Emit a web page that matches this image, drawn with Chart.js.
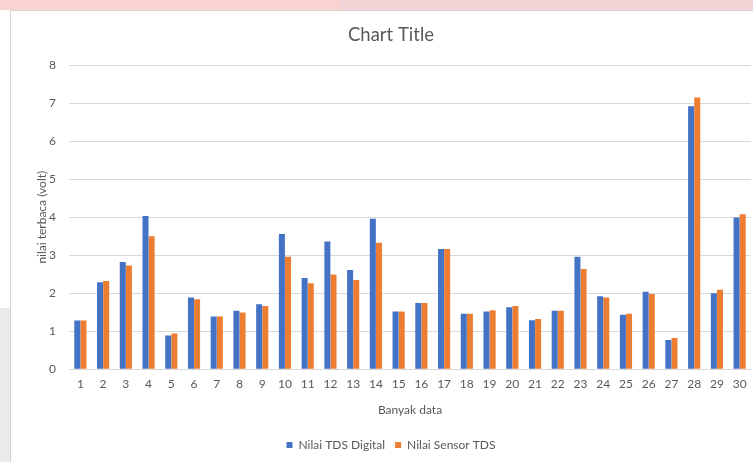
<!DOCTYPE html>
<html>
<head>
<meta charset="utf-8">
<script src="https://cdn.jsdelivr.net/npm/chart.js@4/dist/chart.umd.min.js"></script>
<style>
  html, body { margin: 0; padding: 0; width: 753px; height: 462px; overflow: hidden; background: #ffffff; }
  #pinkL { position: absolute; left: 0; top: 0; width: 340px; height: 10px; background: #fbd2d2; }
  #pinkR { position: absolute; left: 340px; top: 0; width: 413px; height: 10px; background: #f2d3d6; }
  #grayL { position: absolute; left: 0; top: 308px; width: 10px; height: 154px; background: #ebebeb; }
  #frame { position: absolute; left: 10px; top: 10px; width: 760px; height: 460px; border-left: 1px solid #d4d4d4; border-top: 1px solid #d4d4d4; background: #ffffff; overflow: hidden; }
  #wrap { position: absolute; left: 0; top: 0; width: 758px; height: 451px; }
</style>
</head>
<body>
<div id="pinkL"></div><div id="pinkR"></div><div id="grayL"></div>
<div id="frame"><div id="wrap"><canvas id="c"></canvas></div></div>
<script>
const categories = ["1","2","3","4","5","6","7","8","9","10","11","12","13","14","15","16","17","18","19","20","21","22","23","24","25","26","27","28","29","30"];
const seriesNames = ["Nilai TDS Digital", "Nilai Sensor TDS"];
const tdsDigital = [1.28, 2.29, 2.82, 4.03, 0.89, 1.89, 1.39, 1.54, 1.71, 3.56, 2.40, 3.36, 2.61, 3.96, 1.52, 1.74, 3.16, 1.46, 1.52, 1.63, 1.29, 1.54, 2.96, 1.92, 1.43, 2.04, 0.77, 6.92, 2.00, 3.99];
const sensorTds = [1.28, 2.32, 2.73, 3.50, 0.94, 1.84, 1.39, 1.49, 1.66, 2.96, 2.26, 2.49, 2.35, 3.33, 1.52, 1.74, 3.16, 1.46, 1.55, 1.66, 1.32, 1.54, 2.64, 1.89, 1.46, 1.98, 0.82, 7.15, 2.09, 4.08];
const yTicks = [0, 1, 2, 3, 4, 5, 6, 7, 8];

const FONT = "Lato, 'Open Sans', sans-serif";
const TXT = "#595959";

new Chart(document.getElementById("c"), {
  type: "bar",
  data: {
    labels: categories,
    datasets: [
      { label: seriesNames[0], data: tdsDigital, backgroundColor: "#4472C4", borderWidth: 0 },
      { label: seriesNames[1], data: sensorTds, backgroundColor: "#ED7D31", borderWidth: 0 }
    ]
  },
  options: {
    responsive: true,
    maintainAspectRatio: false,
    animation: false,
    devicePixelRatio: 1,
    layout: { padding: { left: 20, right: 18, top: 0, bottom: 1 } },
    datasets: { bar: { categoryPercentage: 0.54, barPercentage: 0.98 } },
    plugins: {
      title: {
        display: true, text: "Chart Title", color: TXT,
        font: { family: FONT, size: 18.5, weight: "normal" },
        padding: { top: 13, bottom: 19 }
      },
      legend: {
        position: "bottom",
        labels: {
          color: TXT, font: { family: FONT, size: 12 },
          boxWidth: 6, boxHeight: 6, padding: 10
        }
      },
      tooltip: { enabled: false }
    },
    scales: {
      x: {
        grid: { display: false, drawTicks: false },
        border: { display: true, color: "#d9d9d9", width: 1 },
        ticks: { color: TXT, font: { family: FONT, size: 12 }, padding: 8, maxRotation: 0, autoSkip: false },
        title: { display: true, text: "Banyak data", color: TXT, font: { family: FONT, size: 12 }, padding: { top: 3, bottom: 12 } }
      },
      y: {
        min: 0, max: 8,
        afterBuildTicks: (s) => { s.ticks = yTicks.map(v => ({ value: v })); },
        afterFit: (s) => { s.width = 38; },
        grid: { color: "#d9d9d9", drawTicks: false },
        border: { display: false },
        ticks: { color: TXT, font: { family: FONT, size: 12 }, padding: 13 },
        title: { display: true, text: "nilai terbaca (volt)", color: TXT, font: { family: FONT, size: 12 }, padding: { top: 4, bottom: 4 } }
      }
    }
  }
});
</script>
</body>
</html>
